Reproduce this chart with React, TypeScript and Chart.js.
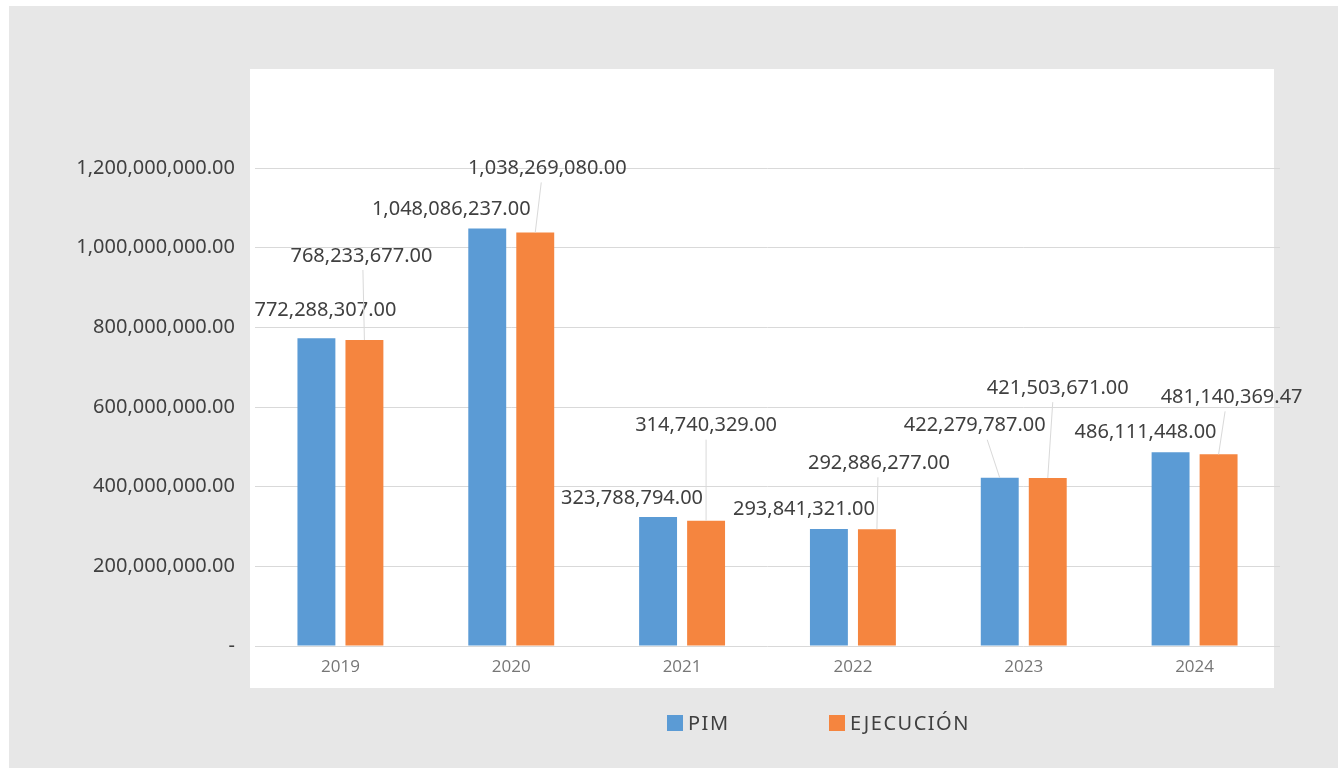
import React, { useEffect, useRef } from "react";
import { Chart, registerables } from "chart.js";

Chart.register(...registerables);

// ---- data ----
const categories = ["2019", "2020", "2021", "2022", "2023", "2024"];
const seriesNames = ["PIM", "EJECUCIÓN"];
const pim = [772288307.0, 1048086237.0, 323788794.0, 293841321.0, 422279787.0, 486111448.0];
const ejecucion = [768233677.0, 1038269080.0, 314740329.0, 292886277.0, 421503671.0, 481140369.47];
const yTicks = [0, 200000000, 400000000, 600000000, 800000000, 1000000000, 1200000000];

// ---- label placement (offset of label centre from bar top, leader line flag) ----
const pimLabelOffsets: [number, number, boolean][] = [
  [9, -28, false],
  [-36, -19, false],
  [-26, -19, false],
  [-25, -20, false],
  [-25, -52, true],
  [-25, -20, false],
];
const ejeLabelOffsets: [number, number, boolean][] = [
  [-3, -84, true],
  [12, -64, true],
  [0, -95, true],
  [2, -66, true],
  [10, -90, true],
  [13, -57, true],
];

const colors = ["#5B9BD5", "#F5853F"];
const FONT = "'Noto Sans', sans-serif";

const fmt = (v: number) =>
  v.toLocaleString("en-US", { minimumFractionDigits: 2, maximumFractionDigits: 2 });

const backgroundPlugin = {
  id: "bgPanels",
  beforeDraw(chart: any) {
    const { ctx, chartArea } = chart;
    ctx.save();
    ctx.fillStyle = "#ffffff";
    ctx.fillRect(0, 0, chart.width, chart.height);
    ctx.fillStyle = "#e7e7e7";
    ctx.fillRect(9, 6, chart.width - 9, chart.height - 6);
    ctx.fillStyle = "#ffffff";
    ctx.fillRect(chartArea.left - 5, 69, chartArea.right - 6 - (chartArea.left - 5), chartArea.bottom + 42 - 69);
    ctx.restore();
  },
};

const dataLabelPlugin = {
  id: "dataLabels",
  afterDatasetsDraw(chart: any) {
    const { ctx } = chart;
    const offsetsAll = [pimLabelOffsets, ejeLabelOffsets];
    ctx.save();
    chart.data.datasets.forEach((ds: any, di: number) => {
      const meta = chart.getDatasetMeta(di);
      meta.data.forEach((el: any, i: number) => {
        const [dx, dy, leader] = offsetsAll[di][i];
        const bx = el.x;
        const top = el.y;
        const tx = bx + dx;
        const ty = top + dy;
        if (leader) {
          ctx.strokeStyle = "#d9d9d9";
          ctx.lineWidth = 1;
          ctx.beginPath();
          ctx.moveTo(tx + (bx - tx) / 2, ty + 14);
          ctx.lineTo(bx, top);
          ctx.stroke();
        }
        ctx.fillStyle = "#404040";
        ctx.font = `20px ${FONT}`;
        ctx.textAlign = "center";
        ctx.textBaseline = "middle";
        ctx.fillText(fmt(ds.data[i]), tx, ty);
      });
    });
    ctx.restore();
  },
};

const legendPlugin = {
  id: "customLegend",
  afterDraw(chart: any) {
    const { ctx } = chart;
    const y = 723;
    const starts = [667, 829];
    ctx.save();
    ctx.font = `20px ${FONT}`;
    (ctx as any).letterSpacing = "1.5px";
    ctx.textBaseline = "middle";
    ctx.textAlign = "left";
    seriesNames.forEach((name, i) => {
      ctx.fillStyle = colors[i];
      ctx.fillRect(starts[i], y - 8, 16, 16);
      ctx.fillStyle = "#404040";
      ctx.fillText(name, starts[i] + 21, y + 1);
    });
    ctx.restore();
  },
};

export default function App() {
  const canvasRef = useRef<HTMLCanvasElement | null>(null);

  useEffect(() => {
    if (!canvasRef.current) return;
    const chart = new Chart(canvasRef.current, {
      type: "bar",
      data: {
        labels: categories,
        datasets: [
          {
            label: seriesNames[0],
            data: pim,
            backgroundColor: colors[0],
            categoryPercentage: 0.562,
            barPercentage: 0.79,
          },
          {
            label: seriesNames[1],
            data: ejecucion,
            backgroundColor: colors[1],
            categoryPercentage: 0.562,
            barPercentage: 0.79,
          },
        ],
      },
      options: {
        responsive: false,
        animation: false,
        layout: { padding: { top: 168, right: 58, left: 0, bottom: 0 } },
        plugins: {
          legend: { display: false },
          tooltip: { enabled: false },
        },
        scales: {
          x: {
            grid: { display: false, drawTicks: false },
            border: { display: false },
            ticks: {
              color: "#767676",
              font: { family: "'Open Sans', sans-serif", size: 17 },
              padding: 11,
            },
            afterFit: (scale: any) => {
              scale.height = 122;
            },
          },
          y: {
            min: 0,
            max: yTicks[yTicks.length - 1],
            border: { display: false },
            grid: { color: "#d9d9d9", lineWidth: 1, drawTicks: false },
            afterBuildTicks: (scale: any) => {
              scale.ticks = yTicks.map((v) => ({ value: v }));
            },
            ticks: {
              color: "#404040",
              font: { family: FONT, size: 20 },
              padding: 20,
              callback: (v: any) => (Number(v) === 0 ? "-" : fmt(Number(v))),
            },
            afterFit: (scale: any) => {
              scale.width = 255;
            },
          },
        },
      },
      plugins: [backgroundPlugin, dataLabelPlugin, legendPlugin],
    });
    return () => chart.destroy();
  }, []);

  return (
    <div style={{ position: "absolute", left: 0, top: 0, width: 1338, height: 768 }}>
      <canvas ref={canvasRef} width={1338} height={768} style={{ display: "block" }} />
    </div>
  );
}
